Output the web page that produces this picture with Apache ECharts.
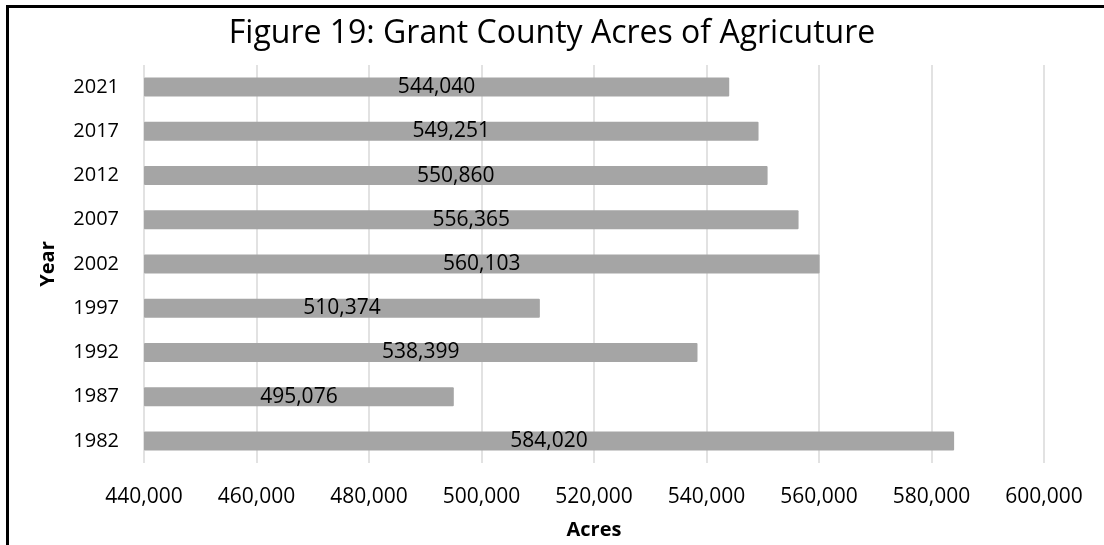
<!DOCTYPE html>
<html>
<head>
<meta charset="utf-8">
<script src="https://cdn.jsdelivr.net/npm/echarts@6/dist/echarts.min.js"></script>
<style>
  html, body { margin: 0; padding: 0; background: #fff; }
  #chart { width: 1104px; height: 545px; }
</style>
</head>
<body>
<div id="chart"></div>
<script>
// Grant County acres in agriculture, by census year (bottom to top)
const years = ['1982', '1987', '1992', '1997', '2002', '2007', '2012', '2017', '2021'];
const acres = [584020, 495076, 538399, 510374, 560103, 556365, 550860, 549251, 544040];

const FONT = 'Open Sans';
const fmt = v => Number(v).toLocaleString('en-US');

const chart = echarts.init(document.getElementById('chart'), null, { renderer: 'canvas' });

chart.setOption({
  animation: false,
  textStyle: { fontFamily: FONT },
  title: {
    text: 'Figure 19: Grant County Acres of Agricuture',
    left: 'center',
    top: 13,
    textStyle: { fontFamily: FONT, fontSize: 32, fontWeight: 'normal', color: '#000' }
  },
  grid: { left: 144, right: 60, top: 65, bottom: 80 },
  xAxis: {
    type: 'value',
    min: 440000,
    max: 600000,
    interval: 20000,
    name: 'Acres',
    nameLocation: 'middle',
    nameGap: 57,
    nameTextStyle: { fontFamily: FONT, fontSize: 20, fontWeight: 'bold', color: '#000' },
    axisLine: { show: false },
    axisTick: { show: false },
    axisLabel: { fontSize: 21, color: '#000', margin: 24, formatter: fmt },
    splitLine: { show: true, lineStyle: { color: '#d9d9d9', width: 1.5 } }
  },
  yAxis: {
    type: 'category',
    data: years,
    name: 'Year',
    nameLocation: 'middle',
    nameGap: 86,
    nameRotate: 90,
    nameTextStyle: { fontFamily: FONT, fontSize: 20, fontWeight: 'bold', color: '#000' },
    axisLine: { show: false },
    axisTick: { show: false },
    axisLabel: { fontSize: 20, color: '#000', margin: 25 }
  },
  series: [{
    type: 'bar',
    data: acres,
    barWidth: 19,
    itemStyle: { color: '#a5a5a5', borderRadius: 1 },
    label: {
      show: true,
      position: 'inside',
      fontSize: 21,
      color: '#000',
      formatter: p => fmt(p.value)
    }
  }],
  graphic: [{
    type: 'polyline',
    shape: { points: [[7.5, 545], [7.5, 6.5], [1104, 6.5]] },
    style: { stroke: '#000', lineWidth: 3, fill: null }
  }]
});
</script>
</body>
</html>
